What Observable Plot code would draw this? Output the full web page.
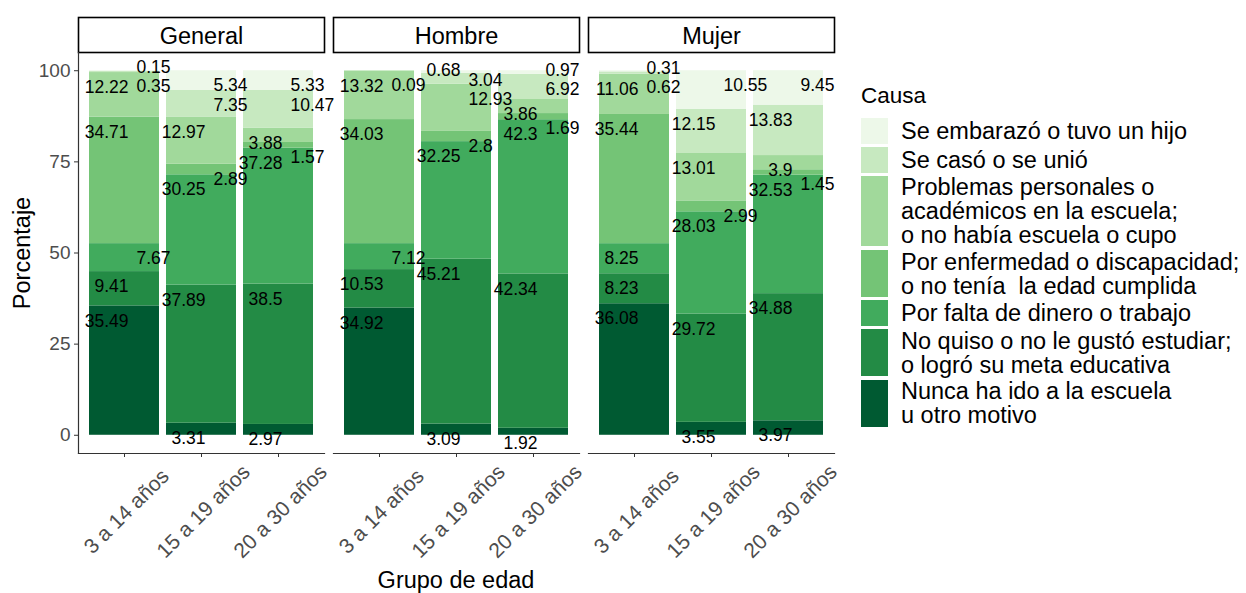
<!DOCTYPE html>
<html><head><meta charset="utf-8">
<script src="https://cdn.jsdelivr.net/npm/d3@7"></script>
<script src="https://cdn.jsdelivr.net/npm/@observablehq/plot@0.6"></script>
<style>
body{margin:0;width:1246px;height:593px;overflow:hidden;position:relative;background:#fff;font-family:"Liberation Sans",Arial,sans-serif;color:#000;}
#title{position:absolute;left:0;top:-20px;width:1246px;text-align:center;font-weight:bold;font-size:27px;line-height:30px;white-space:nowrap;}
#chart{position:absolute;left:0;top:0;}
#ytitle{position:absolute;left:22px;top:253px;transform:translate(-50%,-50%) rotate(-90deg);font-size:23.5px;white-space:nowrap;}
#xtitle{position:absolute;left:456px;top:580px;transform:translate(-50%,-50%);font-size:23.5px;white-space:nowrap;}
#legend{position:absolute;left:861px;top:83px;}
#legend .lt{font-size:22.5px;margin-bottom:9px;}
#legend .row{display:flex;align-items:center;margin-bottom:2.5px;}
#legend .key{width:27px;flex:none;}
#legend .txt{margin-left:13px;font-size:23.5px;line-height:24px;white-space:pre;}
</style></head>
<body>
<div id="title">de edad y sexo, 2020</div>
<div id="chart"></div>
<div id="ytitle">Porcentaje</div>
<div id="xtitle">Grupo de edad</div>
<div id="legend"></div>
<script>
// ---- data ----
const facets = ["General", "Hombre", "Mujer"];
const grupos = ["3 a 14 años", "15 a 19 años", "20 a 30 años"];
// stack order: bottom -> top
const causas = [
  "Nunca ha ido a la escuela\nu otro motivo",
  "No quiso o no le gustó estudiar;\no logró su meta educativa",
  "Por falta de dinero o trabajo",
  "Por enfermedad o discapacidad;\no no tenía  la edad cumplida",
  "Problemas personales o\nacadémicos en la escuela;\no no había escuela o cupo",
  "Se casó o se unió",
  "Se embarazó o tuvo un hijo"
];
const colores = ["#005a32", "#238b45", "#41ab5d", "#74c476", "#a1d99b", "#c7e9c0", "#edf8e9"];
const general = [
  [35.49, 9.41, 7.67, 34.71, 12.22, 0.35, 0.15],
  [3.31, 37.89, 30.25, 2.89, 12.97, 7.35, 5.34],
  [2.97, 38.5, 37.28, 1.57, 3.88, 10.47, 5.33]
];
const hombre = [
  [34.92, 10.53, 7.12, 34.03, 13.32, 0.09, 0],
  [3.09, 45.21, 32.25, 2.8, 12.93, 3.04, 0.68],
  [1.92, 42.34, 42.3, 1.69, 3.86, 6.92, 0.97]
];
const mujer = [
  [36.08, 8.23, 8.25, 35.44, 11.06, 0.62, 0.31],
  [3.55, 29.72, 28.03, 2.99, 13.01, 12.15, 10.55],
  [3.97, 34.88, 32.53, 1.45, 3.9, 13.83, 9.45]
];
const yTicks = [0, 25, 50, 75, 100];

// ---- build table ----
const bySexo = {General: general, Hombre: hombre, Mujer: mujer};
const rows = [];
facets.forEach(s => grupos.forEach((g, gi) => causas.forEach((c, ci) => {
  rows.push({sexo: s, grupo: g, causa: c, valor: bySexo[s][gi][ci]});
})));

// ---- layout ----
const W = 850, H = 593, mT = 52, mB = 140, mL = 78, mR = 15;
const fxPad = 0.035, xPadIn = 0.097, xPadOut = 0.137;
const yDom = [-5, 105];
const k = (H - mT - mB) / (yDom[1] - yDom[0]); // px per unit
const panelW = (W - mL - mR) / (facets.length - fxPad) * (1 - fxPad);
const step = panelW / (grupos.length - xPadIn + 2 * xPadOut);
const fs = 17.5, dxL = 4, dxR = 12;
const textW = v => { const t = String(v); return (t.replace(/\./g, "").length * 0.556 + (t.includes(".") ? 0.278 : 0)) * fs; };

// label placement (simple repel, computed from data)
const labels = [];
facets.forEach(s => {
  let prevR = [];
  grupos.forEach((g, gi) => {
    const vals = bySexo[s][gi];
    const placed = {L: [], R: []};
    const off = 15 / k, soft = 29 / k, hard = 19 / k, cross = 15 / k;
    let cum = 0;
    vals.forEach((v, ci) => {
      cum += v;
      if (!(v > 0)) return;
      const w = textW(v);
      const crossHit = (p, y) => Math.abs(p.y - y) < cross - 1e-9 && (dxR + p.w + 4 > step + dxL - w);
      const hits = (side, y, th) => placed[side].some(p => Math.abs(p.y - y) < th - 1e-9) ||
        (side === "L" && prevR.some(p => crossHit(p, y)));
      const want = cum - off;
      let side, y = want;
      if (!hits("L", want, soft)) side = "L";
      else if (!hits("R", want, soft)) side = "R";
      else {
        const best = sd => {
          let yy = want, moved = true;
          while (moved) {
            moved = false;
            for (const p of placed[sd]) if (Math.abs(p.y - yy) < hard - 1e-9) { yy = p.y + hard; moved = true; }
            if (sd === "L") for (const p of prevR) if (crossHit(p, yy)) { yy = p.y + cross; moved = true; }
          }
          return yy;
        };
        const yl = best("L"), yr = best("R");
        if (yl < yr - 1) { side = "L"; y = yl; } else { side = "R"; y = yr; }
      }
      placed[side].push({y, w});
      labels.push({sexo: s, grupo: g, valor: v, ly: y, side});
    });
    prevR = placed.R;
  });
});

const tickRows = [];
facets.forEach(s => grupos.forEach(g => tickRows.push({sexo: s, grupo: g})));

const plot = Plot.plot({
  width: W, height: H,
  marginTop: mT, marginBottom: mB, marginLeft: mL, marginRight: mR,
  style: {fontFamily: "'Liberation Sans', Arial, sans-serif", background: "white", overflow: "visible"},
  fx: {domain: facets, paddingInner: fxPad, paddingOuter: 0, axis: null, label: null},
  x: {domain: grupos, paddingInner: xPadIn, paddingOuter: xPadOut, axis: null, label: null},
  y: {domain: yDom, axis: null, label: null},
  color: {domain: causas, range: colores},
  marks: [
    Plot.frame({fill: "white", stroke: "black", strokeWidth: 1.6, insetTop: -35, insetBottom: H - mT - mB}),
    Plot.text(facets, {fx: d => d, text: d => d, frameAnchor: "top", lineAnchor: "middle", dy: -16, fontSize: 23.5, fill: "black"}),
    Plot.barY(rows, {fx: "sexo", x: "grupo", y: "valor", fill: "causa"}),
    Plot.frame({anchor: "bottom", stroke: "#333", strokeWidth: 1.2}),
    Plot.frame({anchor: "left", stroke: "#333", strokeWidth: 1.2, facetAnchor: "left"}),
    Plot.axisY({ticks: yTicks, tickSize: 4, tickPadding: 4, fontSize: 19, label: null, stroke: "#333", fill: "#4d4d4d"}),
    Plot.axisX({tickSize: 4, tickFormat: () => "", label: null, stroke: "#333"}),
    Plot.text(tickRows, {fx: "sexo", x: "grupo", text: "grupo", frameAnchor: "bottom", lineAnchor: "middle", rotate: -45, textAnchor: "middle", dx: 2, dy: 58, fontSize: 21, fill: "#4d4d4d"}),
    Plot.text(labels.filter(d => d.side === "L"), {fx: "sexo", x: "grupo", y: "ly", text: d => String(d.valor), textAnchor: "end", dx: dxL, fontSize: fs, fill: "black"}),
    Plot.text(labels.filter(d => d.side === "R"), {fx: "sexo", x: "grupo", y: "ly", text: d => String(d.valor), textAnchor: "start", dx: dxR, fontSize: fs, fill: "black"})
  ]
});
document.getElementById("chart").appendChild(plot);

// legend (top -> bottom)
const leg = document.getElementById("legend");
const lt = document.createElement("div"); lt.className = "lt"; lt.textContent = "Causa"; leg.appendChild(lt);
for (let i = causas.length - 1; i >= 0; i--) {
  const lines = causas[i].split("\n").length;
  const row = document.createElement("div"); row.className = "row";
  const key = document.createElement("div"); key.className = "key";
  key.style.background = colores[i];
  key.style.height = Math.max(26, lines * 23.5) + "px";
  const txt = document.createElement("div"); txt.className = "txt"; txt.textContent = causas[i];
  row.appendChild(key); row.appendChild(txt); leg.appendChild(row);
}
</script>
</body></html>
